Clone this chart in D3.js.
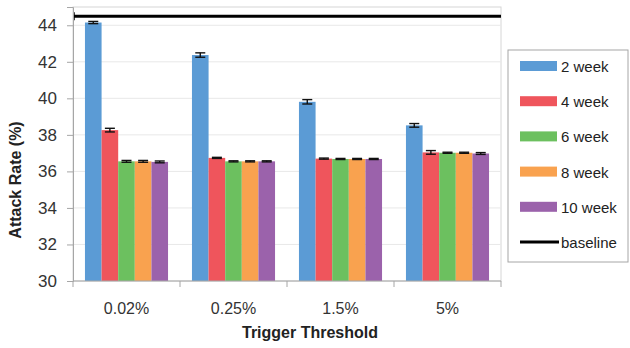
<!DOCTYPE html>
<html>
<head>
<meta charset="utf-8">
<script src="https://cdn.jsdelivr.net/npm/d3@7"></script>
<style>
  body { margin: 0; background: #fff; }
  text { font-family: "Liberation Sans", Arial, sans-serif; }
</style>
</head>
<body>
<div id="chart"></div>
<script>
// Data
const categories = ["0.02%", "0.25%", "1.5%", "5%"];
const seriesNames = ["2 week", "4 week", "6 week", "8 week", "10 week"];
const week2 = [44.15, 42.37, 39.81, 38.52];
const week4 = [38.26, 36.74, 36.70, 37.04];
const week6 = [36.55, 36.55, 36.68, 37.02];
const week8 = [36.55, 36.55, 36.68, 37.02];
const week10 = [36.52, 36.55, 36.68, 36.98];
const err2 = [0.06, 0.12, 0.12, 0.1];
const err4 = [0.1, 0.03, 0.03, 0.1];
const err6 = [0.05, 0.03, 0.03, 0.03];
const err8 = [0.05, 0.03, 0.03, 0.03];
const err10 = [0.05, 0.03, 0.03, 0.05];
const baseline = 44.5;
const yTicks = [30, 32, 34, 36, 38, 40, 42, 44];
const colors = ["#5b9bd5", "#ef555c", "#6cc05f", "#f9a24f", "#9b62ab"];

const seriesValues = [week2, week4, week6, week8, week10];
const seriesErrors = [err2, err4, err6, err8, err10];

const width = 630, height = 348;
const margin = { top: 7, right: 129, bottom: 67, left: 73 };

const svg = d3.select("#chart").append("svg")
  .attr("width", width)
  .attr("height", height);

const plotW = width - margin.left - margin.right;
const plotH = height - margin.top - margin.bottom;

const chart = svg.append("g")
  .attr("transform", `translate(${margin.left},${margin.top})`);

// Scales
const x0 = d3.scaleBand().domain(categories).range([0, plotW]).padding(0);
const x1 = d3.scaleBand().domain(seriesNames).range([0, x0.bandwidth()])
  .paddingInner(0).paddingOuter(0.72);
const y = d3.scaleLinear().domain([30, 45]).range([plotH, 0]);

// Plot frame (top/right)
chart.append("rect")
  .attr("x", 0).attr("y", 0)
  .attr("width", plotW).attr("height", plotH)
  .attr("fill", "none")
  .attr("stroke", "#d6d6d6");

// Grid lines
chart.append("g")
  .selectAll("line")
  .data(yTicks.slice(1))
  .join("line")
  .attr("x1", 0).attr("x2", plotW)
  .attr("y1", d => y(d)).attr("y2", d => y(d))
  .attr("stroke", "#e8e8e8");

// Bars
const rows = categories.flatMap((c, i) =>
  seriesNames.map((s, j) => ({ cat: c, s: s, j: j, v: seriesValues[j][i], e: seriesErrors[j][i] })));

chart.append("g")
  .selectAll("rect")
  .data(rows)
  .join("rect")
  .attr("x", d => x0(d.cat) + x1(d.s))
  .attr("y", d => y(d.v))
  .attr("width", x1.bandwidth())
  .attr("height", d => y(30) - y(d.v))
  .attr("fill", d => colors[d.j]);

// Error bars
const eb = chart.append("g").attr("stroke", "#111").attr("stroke-width", 1.4);
const cx = d => x0(d.cat) + x1(d.s) + x1.bandwidth() / 2;
eb.selectAll(".stem").data(rows).join("line")
  .attr("x1", cx).attr("x2", cx)
  .attr("y1", d => y(d.v + d.e)).attr("y2", d => y(d.v - d.e));
eb.selectAll(".capT").data(rows).join("line")
  .attr("x1", d => cx(d) - 5).attr("x2", d => cx(d) + 5)
  .attr("y1", d => y(d.v + d.e)).attr("y2", d => y(d.v + d.e));
eb.selectAll(".capB").data(rows).join("line")
  .attr("x1", d => cx(d) - 5).attr("x2", d => cx(d) + 5)
  .attr("y1", d => y(d.v - d.e)).attr("y2", d => y(d.v - d.e));

// Baseline
chart.append("line")
  .attr("x1", 0).attr("x2", plotW)
  .attr("y1", y(baseline)).attr("y2", y(baseline))
  .attr("stroke", "#000").attr("stroke-width", 3);
chart.append("line")
  .attr("x1", 1).attr("x2", 1)
  .attr("y1", y(baseline) - 4).attr("y2", y(baseline) + 4)
  .attr("stroke", "#000").attr("stroke-width", 1.5);

// Y axis
const yAxis = d3.axisLeft(y).tickValues(yTicks).tickSize(6).tickPadding(10);
const yG = chart.append("g").call(yAxis);
yG.select(".domain").attr("stroke", "#a6a6a6");
yG.selectAll(".tick line").attr("stroke", "#a6a6a6");
yG.selectAll(".tick text")
  .attr("font-size", 17).attr("fill", "#333")
  .style("font-family", "'Liberation Sans', Arial, sans-serif");

// X axis with ticks between groups
const xG = chart.append("g").attr("transform", `translate(0,${plotH})`);
xG.append("line").attr("x1", 0).attr("x2", plotW).attr("stroke", "#a6a6a6");
xG.selectAll(".sep")
  .data(categories.concat(["end"]))
  .join("line")
  .attr("x1", (d, i) => i * x0.step()).attr("x2", (d, i) => i * x0.step())
  .attr("y1", 0).attr("y2", 6)
  .attr("stroke", "#a6a6a6");
xG.selectAll(".lbl")
  .data(categories)
  .join("text")
  .attr("x", d => x0(d) + x0.bandwidth() / 2)
  .attr("y", 33)
  .attr("text-anchor", "middle")
  .attr("font-size", 16)
  .attr("fill", "#333")
  .text(d => d);

// Axis titles
svg.append("text")
  .attr("transform", "translate(21,180) rotate(-90)")
  .attr("text-anchor", "middle")
  .attr("font-size", 16)
  .attr("font-weight", "bold")
  .attr("fill", "#222")
  .text("Attack Rate (%)");

svg.append("text")
  .attr("x", 310).attr("y", 338)
  .attr("text-anchor", "middle")
  .attr("font-size", 16)
  .attr("font-weight", "bold")
  .attr("fill", "#222")
  .text("Trigger Threshold");

// Legend
const legend = svg.append("g").attr("transform", "translate(508,50)");
legend.append("rect")
  .attr("width", 120).attr("height", 212)
  .attr("fill", "#fff").attr("stroke", "#a6a6a6");
const items = seriesNames.concat(["baseline"]);
const li = legend.selectAll(".item")
  .data(items)
  .join("g")
  .attr("transform", (d, i) => `translate(12,${16 + i * 35.2})`);
li.filter((d, i) => i < seriesNames.length)
  .append("rect")
  .attr("x", 0).attr("y", -5)
  .attr("width", 37).attr("height", 10)
  .attr("fill", (d, i) => colors[i]);
li.filter(d => d === "baseline")
  .append("line")
  .attr("x1", 0).attr("x2", 39)
  .attr("stroke", "#000").attr("stroke-width", 3);
li.append("text")
  .attr("x", 41).attr("y", 6)
  .attr("font-size", 15)
  .attr("fill", "#222")
  .text(d => d);
</script>
</body>
</html>
